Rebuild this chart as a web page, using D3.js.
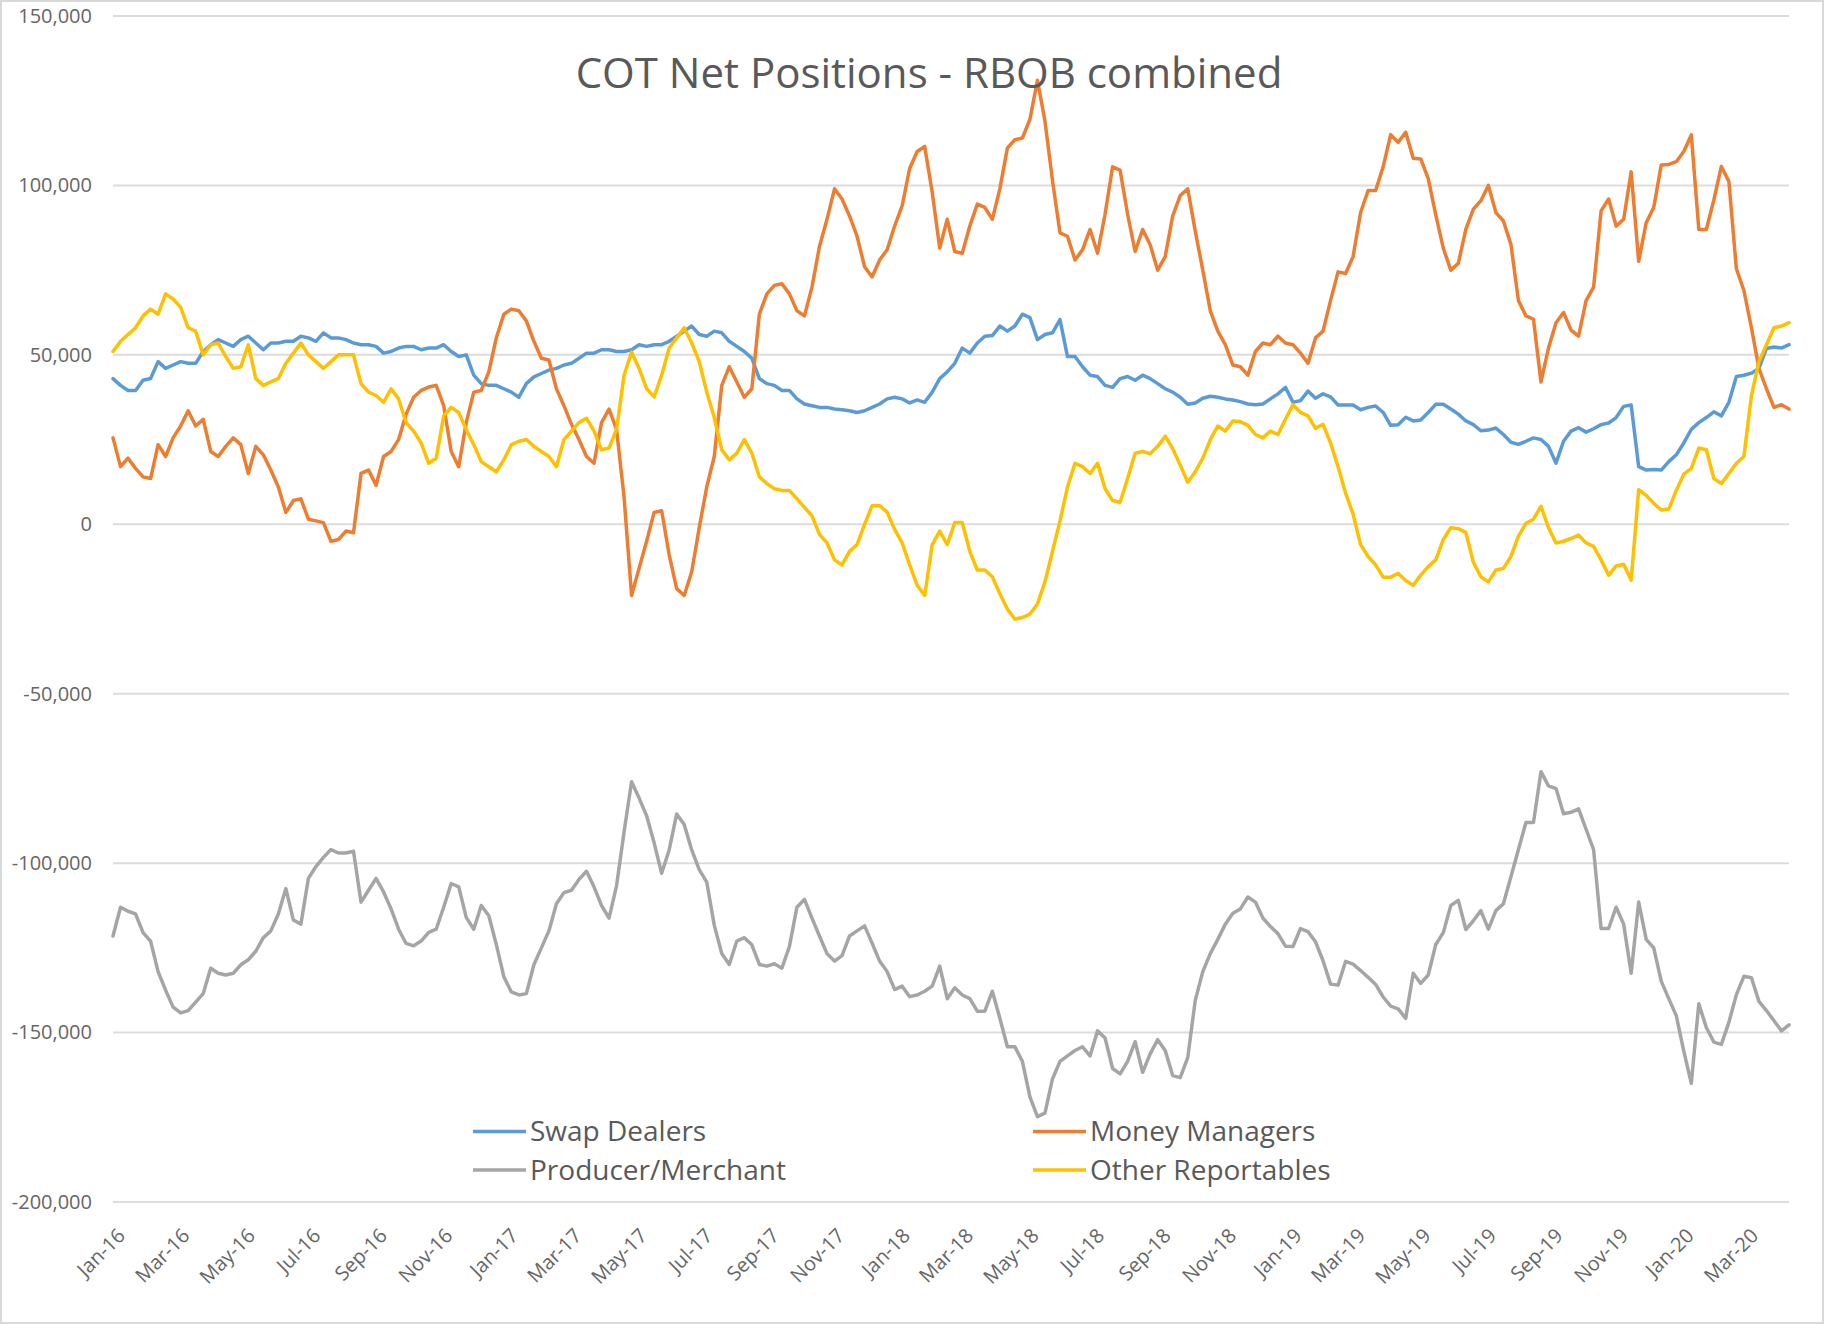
<!DOCTYPE html>
<html>
<head>
<meta charset="utf-8">
<script src="https://cdn.jsdelivr.net/npm/d3@7"></script>
<style>
  html, body { margin: 0; padding: 0; background: #fff; }
  svg { display: block; font-family: "Open Sans", sans-serif; }
</style>
</head>
<body>
<svg id="chart"></svg>
<script>
// weekly COT report dates start here (one value per week)
const firstWeek = '2016-01-05';

const seriesNames = ['Swap Dealers', 'Money Managers', 'Producer/Merchant', 'Other Reportables'];
const seriesColors = ['#5B9BD5', '#ED7D31', '#A5A5A5', '#FFC000'];

// net positions, thousands of contracts
const swapDealers = [
  43, 41, 39.5, 39.5, 42.5, 43, 48, 46, 47, 48, 47.5, 47.5, 51, 53, 54.5, 53.5, 52.5, 54.5, 55.5, 53.5,
  51.5, 53.5, 53.5, 54, 54, 55.5, 55, 54, 56.5, 55, 55, 54.5, 53.5, 53, 53, 52.5, 50.5, 51,
  52, 52.5, 52.5, 51.5, 52, 52, 53, 51, 49.5, 50, 44, 41.5, 41, 41, 40, 39, 37.5, 41.5, 43.5, 44.5,
  45.5, 46, 47, 47.5, 49, 50.5, 50.5, 51.5, 51.5, 51, 51, 51.5, 53, 52.5, 53,
  53, 54, 55.5, 57, 58.5, 56, 55.5, 57, 56.5, 54, 52.5, 51, 49, 43, 41.5, 41, 39.5, 39.5, 37, 35.5,
  35, 34.5, 34.5, 34, 33.8, 33.5, 33, 33.5, 34.5, 35.5, 37, 37.5, 37, 35.8, 36.7, 36, 39,
  43, 45, 47.5, 52, 50.5, 53.5, 55.5, 55.7, 58.5, 57, 58.5, 62, 61, 54.5, 56, 56.5, 60.4, 49.5, 49.5, 46.5,
  44, 43.6, 41, 40.4, 43, 43.6, 42.5, 44, 43, 41.5, 40, 39, 37.5, 35.4, 35.8, 37.2, 37.8, 37.5,
  37, 36.7, 36.2, 35.5, 35.3, 35.5, 37, 38.5, 40.4, 36, 36.5, 39.3, 37.2, 38.5, 37.6, 35.2, 35.2, 35.2, 33.8, 34.5,
  34.9, 33, 29.2, 29.4, 31.6, 30.5, 30.8, 33, 35.4, 35.4, 34, 32.5, 30.5, 29.4, 27.6, 27.8, 28.4,
  26.5, 24.2, 23.6, 24.5, 25.5, 25, 23, 18, 24.5, 27.5, 28.5, 27.2, 28.2, 29.4, 29.9, 31.5, 34.8, 35.2, 17, 16,
  16.2, 16, 18.5, 20.5, 24, 28, 30, 31.5, 33.2, 32, 36, 43.6, 44, 44.6, 46, 51.9, 52.3, 52, 53
];

const moneyManagers = [
  25.5, 17, 19.5, 16.5, 14, 13.5, 23.5, 20, 25.5, 29, 33.5, 29, 31, 21.5, 20, 23, 25.5, 23.5, 15, 23,
  20.5, 16, 11, 3.5, 7, 7.5, 1.5, 1, 0.5, -5, -4.5, -2, -2.5, 15, 16, 11.5, 20, 21.5,
  25, 32.5, 37.5, 39.5, 40.5, 41, 35, 21.5, 17, 30, 39, 39.5, 45, 55, 62, 63.5, 63, 60, 54, 49,
  48.5, 40, 35, 29.5, 25, 20, 18, 30, 34, 28, 8, -21, -13, -5, 3.5,
  4, -9, -19, -21, -14, -1, 11, 20, 41, 46.5, 42, 37.5, 40, 62, 68, 70.5, 71, 68, 63, 61.5,
  70, 82, 90, 99, 96, 91, 85, 76, 73, 78, 81, 88, 94, 105, 110, 111.5, 98,
  81.5, 90, 80.5, 80, 88, 94.5, 93.5, 90, 99, 111, 113.5, 114, 119.5, 131, 119, 101.5, 86, 85, 78, 81,
  87, 80, 91.5, 105.5, 104.5, 91.5, 80.5, 87, 82.5, 75, 79, 91, 97, 99, 86.5, 75, 63, 57,
  53, 47, 46.5, 44, 51, 53.5, 53, 55.5, 53.5, 53, 50.5, 47.5, 55, 57, 66, 74.5, 74, 79, 92, 98.5,
  98.5, 105.5, 115, 112.7, 115.7, 108, 107.8, 102, 91.3, 81.5, 75, 77, 87, 93, 95.5, 100, 92,
  89.5, 82.6, 66, 61.5, 60.5, 42, 52, 59.5, 62.5, 57.3, 55.5, 66, 70, 92.5, 96, 88, 90, 104, 77.6, 89,
  93.5, 106, 106.2, 107, 110, 114.9, 87, 87, 95.7, 105.6, 101.2, 75.4, 69, 58, 46, 40, 34.5, 35.3, 34
];

const producerMerchant = [
  -121.5, -113, -114.2, -115, -120.5, -123, -132, -137.5, -142.5, -144.2, -143.5, -141, -138.5, -131, -132.5, -133, -132.5, -130, -128.5, -126,
  -122, -120, -115, -107.5, -116.8, -118, -104.5, -101, -98.3, -96, -97, -97, -96.5, -111.5, -108, -104.5, -108.5, -113.5,
  -119.5, -123.7, -124.4, -123, -120.4, -119.5, -113, -106, -107, -116, -119.5, -112.5, -115.5, -124, -133.5, -138, -138.9, -138.5, -130, -125,
  -120, -112, -108.7, -108, -104.8, -102.4, -107, -112.5,
  -116.2, -106.7, -90.8, -76, -80.8, -86, -94, -103, -96.1, -85.5, -88.6, -96.1, -101.9, -105.6, -118.3, -126.7, -129.9, -123, -122, -124.1,
  -129.9, -130.4, -129.7, -131, -124.6, -113, -110.7, -116.2, -121.5, -126.7, -128.9, -127.3, -121.5, -120, -118.5, -123.6, -128.9, -132, -137.3, -136.3,
  -139.4, -138.9, -137.8, -136.3, -130.4, -140, -136.8, -138.9, -140, -143.7, -143.7, -137.8, -145.8, -154.2, -154.2, -158.5, -169, -174.8, -173.8, -163.7,
  -158.5, -156.9, -155.3, -154.2, -156.9, -149.5, -151.6, -160.6, -162.2, -158.5, -152.7, -161.7, -156.3, -152.1, -155.3, -162.7, -163.3, -157.4, -140.5, -132,
  -126.7, -122.5,
  -118, -114.8, -113.5, -110, -111.5, -116.2, -118.7, -120.8, -124.5, -124.6, -119.3, -120.2, -123.2, -128.8, -135.7, -136, -129, -129.8, -131.7, -133.7,
  -135.8, -139.5, -142.2, -143, -145.8, -132.5, -135.5, -133, -124, -120.5, -112.5, -111, -119.6, -117, -114, -119.5, -114, -112, -104, -96,
  -88, -88, -73, -77.2, -78, -85.4, -85, -84, -90, -96, -119.3, -119.3, -113, -118, -132.5, -111.5, -122.5, -125, -134.8, -140,
  -145, -155.5, -165, -141.5, -148.5, -152.8, -153.5, -147, -138.8, -133.4, -133.8, -140.8, -143.5, -146.5, -149.5, -147.7
];

const otherReportables = [
  51, 54, 56, 58, 61.5, 63.5, 62, 68, 66.5, 64, 58, 57, 50, 53, 53.5, 49.5, 46, 46.5, 53, 43,
  41, 42, 43, 47.5, 50.5, 53.5, 50, 48, 46, 48, 50, 50, 50, 41.5, 39, 38, 36, 40,
  37, 30, 27.5, 24, 18, 19.5, 32, 34.5, 33, 28, 23.5, 18.5, 17, 15.5, 19, 23.5, 24.5, 25, 23, 21.5,
  20, 17, 25, 27.5, 30, 31.3, 27.5, 22, 22.5, 28, 44, 50.8, 46, 40, 37.6,
  44, 52, 55, 58, 53.5, 48, 39, 31.5, 22, 19, 21, 25, 21, 14, 12, 10.5, 10, 10, 7.5, 5,
  2.5, -3, -5.5, -10.5, -12, -8, -6, 0, 5.5, 5.5, 3.6, -1.5, -5.5, -12, -18, -21, -6,
  -2, -6, 0.5, 0.5, -8, -13.5, -13.5, -15.5, -20.5, -25, -28, -27.5, -26.5, -23.5, -17, -8, 1, 11, 18, 17,
  15, 18, 10.5, 7, 6.5, 13.5, 21, 21.5, 20.8, 23, 26, 22.3, 17.5, 12.4, 15.5, 19.5, 25, 29,
  27.5, 30.5, 30.3, 29.2, 26.5, 25.5, 27.5, 26.5, 31, 35.3, 33, 32, 28.3, 29.5, 24, 17, 9.2, 3, -6, -9.5,
  -12, -15.6, -15.6, -14.5, -16.6, -18, -15, -12.5, -10.5, -4.5, -1, -1.3, -2.4, -11.2, -15.5, -17, -13.5,
  -13, -9.5, -3.5, 0.3, 1.5, 5.3, -1, -5.5, -5, -4.2, -3.2, -5.5, -6.5, -10.5, -15, -12.3, -11.8, -16.5, 10.2, 8.5,
  6.2, 4.2, 4.5, 10, 14.8, 16.5, 22.5, 22, 13.5, 12, 15, 18, 20, 38, 48, 53, 58, 58.5, 59.5
];

const yTicks = [150000, 100000, 50000, 0, -50000, -100000, -150000, -200000];
const xTickLabels = [
  'Jan-16', 'Mar-16', 'May-16', 'Jul-16', 'Sep-16', 'Nov-16',
  'Jan-17', 'Mar-17', 'May-17', 'Jul-17', 'Sep-17', 'Nov-17',
  'Jan-18', 'Mar-18', 'May-18', 'Jul-18', 'Sep-18', 'Nov-18',
  'Jan-19', 'Mar-19', 'May-19', 'Jul-19', 'Sep-19', 'Nov-19',
  'Jan-20', 'Mar-20'
];

const size = {w: 1824, h: 1324};
const plot = {l: 113, r: 1789, t: 16, b: 1202};

const svg = d3.select('#chart')
    .attr('width', size.w)
    .attr('height', size.h);

// chart area outline
svg.append('rect')
    .attr('x', 1).attr('y', 1)
    .attr('width', size.w - 2).attr('height', size.h - 2)
    .attr('fill', '#fff')
    .attr('stroke', '#d9d9d9')
    .attr('stroke-width', 2);

const start = d3.timeParse('%Y-%m-%d')(firstWeek);
const weeks = swapDealers.map((d, i) => d3.timeDay.offset(start, i * 7));

const x = d3.scaleTime()
    .domain([weeks[0], weeks[weeks.length - 1]])
    .range([plot.l, plot.r]);

const y = d3.scaleLinear()
    .domain([-200000, 150000])
    .range([plot.b, plot.t]);

const fmt = d3.formatLocale({decimal: '.', thousands: ',', grouping: [3], currency: ['$', ''], minus: '-'}).format(',');

// gridlines
svg.append('g').classed('grid', true)
    .selectAll('line')
    .data(yTicks)
    .enter()
    .append('line')
    .attr('x1', plot.l).attr('x2', plot.r)
    .attr('y1', d => y(d)).attr('y2', d => y(d))
    .attr('stroke', '#dcdcdc')
    .attr('stroke-width', 2);

// y axis labels
const yAxis = d3.axisLeft(y).tickValues(yTicks).tickFormat(fmt).tickSize(0).tickPadding(0);
svg.append('g')
    .attr('transform', `translate(92,0)`)
    .call(yAxis)
    .call(g => g.select('.domain').remove())
    .selectAll('text')
    .attr('font-family', '"Open Sans", sans-serif')
    .attr('font-size', 20)
    .attr('fill', '#666');

// x axis labels, rotated
const parseMonth = d3.timeParse('%b-%y');
const tickDates = xTickLabels.map(s => d3.timeDay.offset(parseMonth(s), start.getDate() - 1));
const xAxis = d3.axisBottom(x).tickValues(tickDates).tickFormat((d, i) => xTickLabels[i]).tickSize(0);
svg.append('g')
    .attr('transform', `translate(0,${plot.b})`)
    .call(xAxis)
    .call(g => g.select('.domain').remove())
    .selectAll('text')
    .attr('x', 0).attr('y', 0).attr('dy', '0.35em')
    .attr('text-anchor', 'end')
    .attr('transform', 'translate(8,30) rotate(-45)')
    .attr('font-family', '"Open Sans", sans-serif')
    .attr('font-size', 20)
    .attr('fill', '#666');

// series lines
const allSeries = [swapDealers, moneyManagers, producerMerchant, otherReportables];
const line = d3.line()
    .x((d, i) => x(weeks[i]))
    .y(d => y(d * 1000));

svg.append('g').classed('lines', true)
    .selectAll('path')
    .data(allSeries)
    .enter()
    .append('path')
    .attr('d', d => line(d))
    .attr('fill', 'none')
    .attr('stroke', (d, i) => seriesColors[i])
    .attr('stroke-width', 3.5)
    .attr('stroke-linejoin', 'round')
    .attr('stroke-linecap', 'round');

// title
svg.append('text')
    .attr('x', 929).attr('y', 88)
    .attr('text-anchor', 'middle')
    .attr('font-size', 42)
    .attr('fill', '#595959')
    .text('COT Net Positions - RBOB combined');

// legend, two columns
const legCols = [473, 1033];
const legRows = [1131.5, 1170];
const leg = svg.append('g').classed('legend', true)
    .selectAll('g')
    .data(seriesNames)
    .enter()
    .append('g')
    .attr('transform', (d, i) => `translate(${legCols[i % 2]},${legRows[Math.floor(i / 2)]})`);

leg.append('line')
    .attr('x1', 0).attr('x2', 53)
    .attr('y1', 0).attr('y2', 0)
    .attr('stroke', (d, i) => seriesColors[i])
    .attr('stroke-width', 3.5);

leg.append('text')
    .attr('x', 57).attr('y', 0).attr('dy', '0.35em')
    .attr('font-size', 28)
    .attr('fill', '#595959')
    .text(d => d);
</script>
</body>
</html>
